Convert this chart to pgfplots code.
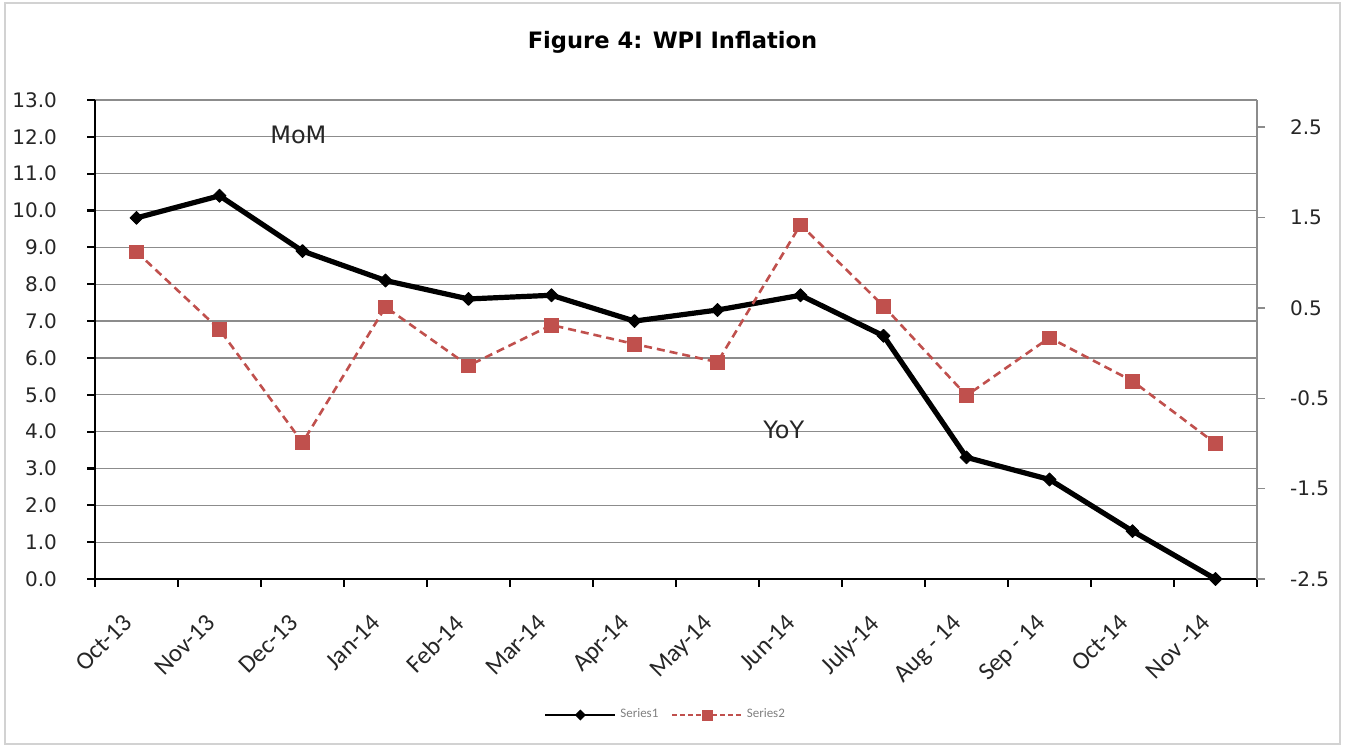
\documentclass[border=0pt]{standalone}
\usepackage{fontspec}
\usepackage{pgfplots}
\pgfplotsset{compat=1.18}
\setmainfont{DejaVu Sans}
\newfontfamily\carlito{Carlito}
\newfontfamily\dejavu{DejaVu Sans}
\definecolor{redser}{HTML}{C0504D}
\definecolor{gridgray}{HTML}{8C8C8C}
\definecolor{ticktext}{HTML}{262626}

\begin{document}
\begin{tikzpicture}
\useasboundingbox (0,0) rectangle (672.5pt,373.5pt);
\draw[gray!35, line width=0.8pt] (2.5pt,1.5pt) rectangle (670pt,372pt);
\node[font=\dejavu\bfseries\fontsize{11.3}{13}\selectfont] at (336.25pt,352.5pt) {Figure 4: WPI Inflation};

\begin{axis}[
  at={(47.5pt,84pt)}, anchor=south west,
  width=581pt, height=239.5pt, scale only axis,
  xmin=-0.5, xmax=13.5, ymin=0, ymax=13,
  axis x line*=bottom, axis y line*=left,
  axis line style={black, line width=1.3pt},
  xtick={-0.5,0.5,1.5,2.5,3.5,4.5,5.5,6.5,7.5,8.5,9.5,10.5,11.5,12.5,13.5},
  x tick label as interval,
  xticklabels={Oct-13,Nov-13,Dec-13,Jan-14,Feb-14,Mar-14,Apr-14,May-14,Jun-14,July-14,Aug - 14,Sep - 14,Oct-14,Nov -14},
  ytick={0,1,...,13},
  tick pos=left,
  tick align=outside, major tick length=4pt,
  tick style={black, line width=1.1pt},
  ymajorgrids,
  grid style={gridgray, line width=0.6pt},
  /pgf/number format/assume math mode=true,
  yticklabel style={/pgf/number format/fixed, /pgf/number format/fixed zerofill, /pgf/number format/precision=1,
    font=\dejavu\fontsize{10}{12}\selectfont, text=ticktext, anchor=east, xshift=-11.5pt},
  xticklabel style={xshift=-7.5pt, yshift=-8pt, rotate=45, anchor=north east, font=\carlito\fontsize{12.5}{14}\selectfont, text=ticktext},
  clip=false,
]
\addplot[black, line width=2.6pt, line join=round, mark=square*, mark size=2.3pt,
  mark options={solid, rotate=45, line width=0.4pt}, forget plot] coordinates {
  (0,9.8) (1,10.4) (2,8.9) (3,8.1) (4,7.6) (5,7.7) (6,7.0) (7,7.3) (8,7.7) (9,6.6) (10,3.3) (11,2.7) (12,1.3) (13,0.0)
};
\node[font=\dejavu\fontsize{12}{14}\selectfont, text=ticktext] at (axis cs:1.95,12.05) {MoM};
\node[font=\dejavu\fontsize{12}{14}\selectfont, text=ticktext] at (axis cs:7.8,4.04) {YoY};
\end{axis}

\begin{axis}[
  at={(47.5pt,84pt)}, anchor=south west,
  width=581pt, height=239.5pt, scale only axis,
  xmin=-0.5, xmax=13.5, ymin=-2.5, ymax=2.8,
  hide x axis,
  axis y line*=right,
  y axis line style={gridgray, line width=0.7pt},
  ytick={-2.5,-1.5,-0.5,0.5,1.5,2.5},
  ytick pos=right, yticklabel pos=right,
  tick align=outside, major tick length=4pt,
  y tick style={gridgray, line width=0.7pt},
  /pgf/number format/assume math mode=true,
  yticklabel style={/pgf/number format/fixed, /pgf/number format/fixed zerofill, /pgf/number format/precision=1,
    font=\dejavu\fontsize{10}{12}\selectfont, text=ticktext, anchor=west, xshift=9pt},
  clip=false,
  legend style={at={(0.492,-0.284)}, anchor=center, draw=none, fill=none,
    font=\carlito\fontsize{6.5}{8}\selectfont, text=gray, legend columns=2,
    /tikz/every even column/.append style={column sep=4.5pt}},
  legend cell align=left,
  legend image code/.code={\draw[mark repeat=2, mark phase=2] plot coordinates {(0pt,0pt) (17.5pt,0pt) (35pt,0pt)};},
]
\addlegendimage{black, line width=0.9pt, mark=square*, mark size=1.5pt, mark options={solid, rotate=45}}
\addlegendentry{Series1}
\addlegendimage{redser, line width=0.7pt, dash pattern=on 2.5pt off 1.5pt, mark=square*, mark size=2.4pt, mark options={solid, fill=redser}}
\addlegendentry{Series2}
\addplot[redser, line width=1.3pt, dash pattern=on 4pt off 2.5pt, mark=square*, mark size=3.4pt,
  mark options={solid, fill=redser, draw=redser, line width=0.3pt}, forget plot] coordinates {
  (0,1.12) (1,0.26) (2,-0.99) (3,0.51) (4,-0.14) (5,0.31) (6,0.10) (7,-0.10) (8,1.42) (9,0.52) (10,-0.47) (11,0.17) (12,-0.31) (13,-1.00)
};
\end{axis}
\end{tikzpicture}
\end{document}
